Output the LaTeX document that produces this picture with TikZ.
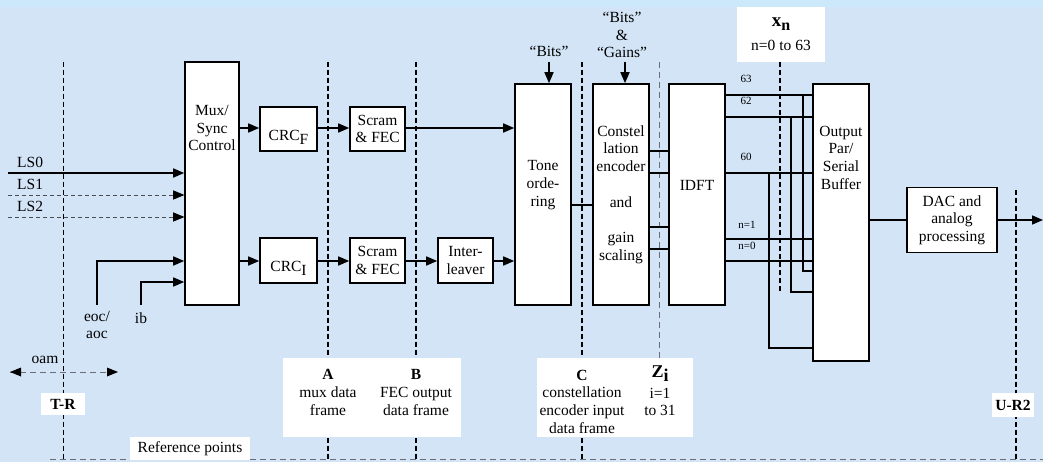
\documentclass[tikz,border=0pt]{standalone}
\usepackage{fontspec}
\setmainfont{Liberation Serif}
\usetikzlibrary{arrows.meta}
\definecolor{bgblue}{RGB}{211,228,247}
\definecolor{topband}{RGB}{204,233,252}
\definecolor{dgray}{RGB}{105,110,120}
\begin{document}
\begin{tikzpicture}[x=1pt,y=-1pt,
  box/.style={draw,line width=1.6pt,fill=white,inner sep=0pt},
  txt/.style={font=\fontsize{15.5}{17.7}\selectfont,align=center,inner sep=0pt},
  wire/.style={line width=1.6pt},
  arr/.style={line width=1.6pt,-{Triangle[length=11pt,width=9pt]}},
  rdash/.style={line width=1.6pt,dash pattern=on 5pt off 3pt},
  tdash/.style={line width=0.9pt,dash pattern=on 5pt off 3pt},
  gdash/.style={line width=0.7pt,draw=dgray,dash pattern=on 6pt off 4pt},
  ldash/.style={line width=0.9pt,draw=dgray!70!black,dash pattern=on 4pt off 3pt},
  wlab/.style={fill=white,draw=none,inner sep=0pt},
  small/.style={font=\fontsize{11}{12}\selectfont,inner sep=0pt},
]
\fill[bgblue] (0,0) rectangle (1043,462);
\fill[topband] (0,0) rectangle (1043,7);
\useasboundingbox (0,0) rectangle (1043,462);

% reference-point dashed lines
\draw[tdash] (63,62) -- (63,462);
\draw[rdash] (328,62) -- (328,462);
\draw[rdash] (416,62) -- (416,462);
\draw[rdash] (582,62) -- (582,462);
\draw[gdash] (659,62) -- (659,358);
\draw[rdash] (1016,190) -- (1016,462);
\draw[gdash] (50,459) -- (1043,459);

% boxes
\node[box,minimum width=54pt,minimum height=243pt] (mux) at (212,183.5) {};
\node[txt] (muxt) at (212,128) {Mux/\\Sync\\Control};
\node[box,minimum width=57pt,minimum height=44pt] (crcf) at (288.5,129) {};
\node[txt] (crcft) at (288.5,137) {CRC\raisebox{-4pt}{F}};
\node[box,minimum width=57pt,minimum height=45pt] (crci) at (288.5,260.5) {};
\node[txt] (crcit) at (288.5,268) {CRC\raisebox{-4pt}{I}};
\node[box,txt,minimum width=55pt,minimum height=44pt] (scf) at (377.5,129) {Scram\\\& FEC};
\node[box,txt,minimum width=55pt,minimum height=45pt] (sci) at (377.5,260.5) {Scram\\\& FEC};
\node[box,txt,minimum width=55pt,minimum height=45pt] (intl) at (465.5,260.5) {Inter-\\leaver};
\node[box,minimum width=56pt,minimum height=221pt] (tone) at (543,194.5) {};
\node[txt] (tonet) at (543,185) {Tone\\orde-\\ring};
\node[box,txt,minimum width=56pt,minimum height=221pt] (const) at (621,194.5) {Constel\\lation\\encoder\\[17.7pt]and\\[17.7pt]gain\\scaling};
\node[box,minimum width=56pt,minimum height=221pt] (idft) at (697,194.5) {};
\node[txt] (idftt) at (697,185) {IDFT};
\node[box,minimum width=56pt,minimum height=277pt] (buf) at (841,222.5) {};
\node[txt] (buft) at (841,157.5) {Output\\Par/\\Serial\\Buffer};
\node[box,txt,minimum width=90pt,minimum height=65pt] (dac) at (952,220) {DAC and\\analog\\processing};
\coordinate (out) at (1043,220);

% input labels and lines
\node[txt,anchor=west] (ls0) at (17,162) {LS0};
\node[txt,anchor=west] (ls1) at (17,184) {LS1};
\node[txt,anchor=west] (ls2) at (17,206) {LS2};
\coordinate (ls0s) at (8,173);
\coordinate (ls1s) at (8,195);
\coordinate (ls2s) at (8,217);
\draw[arr] (ls0s) -- (ls0s -| mux.west);
\draw[ldash,-{Triangle[length=11pt,width=9pt]}] (ls1s) -- (ls1s -| mux.west);
\draw[ldash,-{Triangle[length=11pt,width=9pt]}] (ls2s) -- (ls2s -| mux.west);
\fill (ls1s -| mux.west) ++(-11,-4.5) -- ++(11,4.5) -- ++(-11,4.5) -- cycle;
\fill (ls2s -| mux.west) ++(-11,-4.5) -- ++(11,4.5) -- ++(-11,4.5) -- cycle;

\node[txt] (eoc) at (97,325) {eoc/\\aoc};
\node[txt] (ib) at (141,318) {ib};
\coordinate (eocs) at (97,305);
\coordinate (ibs) at (141,305);
\draw[arr] (eocs) |- (mux.west |- 0,261);
\draw[arr] (ibs) |- (mux.west |- 0,282);

\node[txt] (oam) at (45,360) {oam};
\coordinate (oamL) at (10,372);
\coordinate (oamR) at (118,372);
\draw[gdash,line width=0.8pt] (oamL) -- (oamR);
\fill (oamL) -- ++(11,-4.5) -- ++(0,9) -- cycle;
\fill (oamR) -- ++(-11,-4.5) -- ++(0,9) -- cycle;

% main flow
\draw[arr] (mux.east |- 0,128) -- (crcf.west |- 0,128);
\draw[arr] (mux.east |- 0,261) -- (crci.west |- 0,261);
\draw[arr] (crcf.east |- 0,128) -- (scf.west |- 0,128);
\draw[arr] (crci.east |- 0,261) -- (sci.west |- 0,261);
\draw[arr] (scf.east |- 0,128) -- (tone.west |- 0,128);
\draw[arr] (sci.east |- 0,261) -- (intl.west |- 0,261);
\draw[arr] (intl.east |- 0,261) -- (tone.west |- 0,261);
\draw[wire] (tone.east |- 0,205) -- (const.west |- 0,205);
\foreach \yy in {151,173,227,249}
  \draw[wire] (const.east |- 0,\yy) -- (idft.west |- 0,\yy);

% bits labels
\node[txt] (bits1) at (549,51) {“Bits”};
\draw[arr] (549,62) -- (tone.north -| 549,0);
\node[txt] (bits2) at (622,35) {“Bits”\\\&\\“Gains”};
\draw[arr] (625,62) -- (const.north -| 625,0);

% IDFT to buffer
\foreach \yy in {95,117,173,239,261}
  \draw[wire] (idft.east |- 0,\yy) -- (buf.west |- 0,\yy);
\draw[wire] (803,95) |- (buf.west |- 0,271);
\draw[wire] (791,117) |- (buf.west |- 0,292);
\draw[wire] (769,173) |- (buf.west |- 0,348);
\node[small] (l63) at (746,79) {63};
\node[small] (l62) at (746,101) {62};
\node[small] (l60) at (746,157) {60};
\node[small] (ln1) at (747,225) {n=1};
\node[small] (ln0) at (747,246) {n=0};
\draw[rdash] (780,62) -- (780,291);

\draw[wire] (buf.east |- dac.west) -- (dac.west);
\draw[arr] (dac.east) -- (out);

% white label boxes
\node[wlab,minimum width=88pt,minimum height=55pt] (xnbox) at (781,34.5) {};
\node[txt] (xn) at (781,24) {\fontsize{19}{19}\selectfont\textbf{x}\raisebox{-4pt}{\fontsize{16}{16}\selectfont\textbf{n}}};
\node[txt] (xnr) at (781,45) {n=0 to 63};

\node[wlab,minimum width=178pt,minimum height=79pt] (abbox) at (372,397.5) {};
\node[txt] (alab) at (328,392.5) {\textbf{A}\\mux data\\frame};
\node[txt] (blab) at (416,392.5) {\textbf{B}\\FEC output\\data frame};

\node[wlab,minimum width=156pt,minimum height=79pt] (czbox) at (615,397.5) {};
\node[txt] (clab) at (582,401.5) {\textbf{C}\\constellation\\encoder input\\data frame};
\node[txt] (zlab) at (660,374) {\fontsize{18}{18}\selectfont\textbf{Z}\raisebox{-4pt}{\textbf{i}}};
\node[txt] (zrange) at (660,402) {i=1\\to 31};

\node[wlab,minimum width=44pt,minimum height=22pt] (trbox) at (63,404) {};
\node[txt] (tr) at (63,404) {\textbf{T-R}};
\node[wlab,minimum width=42pt,minimum height=24pt] (urbox) at (1013,405) {};
\node[txt] (ur) at (1013,405) {\textbf{U-R2}};
\node[wlab,minimum width=120pt,minimum height=23pt] (refbox) at (190,448.5) {};
\node[txt] (ref) at (190,448.5) {Reference points};
\end{tikzpicture}
\end{document}
